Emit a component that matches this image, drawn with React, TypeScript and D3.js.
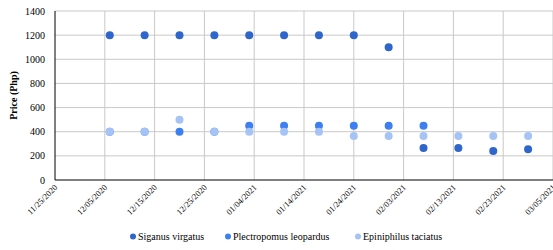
//@ts-nocheck
import React, { useEffect, useRef } from "react";
import * as d3 from "d3";

// weekly sampling dates
const dates = [
  "2020-12-06", "2020-12-13", "2020-12-20", "2020-12-27", "2021-01-03",
  "2021-01-10", "2021-01-17", "2021-01-24", "2021-01-31", "2021-02-07",
  "2021-02-14", "2021-02-21", "2021-02-28",
];
const siganus = [1200, 1200, 1200, 1200, 1200, 1200, 1200, 1200, 1100, 265, 265, 240, 255];
const plectropomus = [400, 400, 400, 400, 450, 450, 450, 450, 450, 450, null, null, null];
const epiniphilus = [400, 400, 500, 400, 400, 400, 400, 365, 365, 365, 365, 365, 365];
const tickDates = [
  "2020-11-25", "2020-12-05", "2020-12-15", "2020-12-25", "2021-01-04",
  "2021-01-14", "2021-01-24", "2021-02-03", "2021-02-13", "2021-02-23", "2021-03-05",
];
const yTicks = [0, 200, 400, 600, 800, 1000, 1200, 1400];

const series = [
  { name: "Siganus virgatus", values: siganus, color: "#2f66cc" },
  { name: "Plectropomus leopardus", values: plectropomus, color: "#3d7ff0" },
  { name: "Epiniphilus taciatus", values: epiniphilus, color: "#a6c3f6" },
];

const W = 553, H = 250;
const margin = { left: 55, top: 11, right: 0, bottom: 70 };

export default function App() {
  const ref = useRef<SVGSVGElement>(null);

  useEffect(() => {
    const svg = d3.select(ref.current);
    svg.selectAll("*").remove();
    const parse = d3.timeParse("%Y-%m-%d");
    const fmt = d3.timeFormat("%m/%d/%Y");

    const x = d3
      .scaleTime()
      .domain([parse("2020-11-25"), parse("2021-03-05")])
      .range([margin.left, W - margin.right]);
    const y = d3.scaleLinear().domain([0, 1400]).range([H - margin.bottom, margin.top]);

    const font = "'Liberation Serif', 'Times New Roman', serif";

    // grid
    svg.append("g")
      .selectAll("line")
      .data(yTicks.slice(1))
      .join("line")
      .attr("x1", margin.left).attr("x2", W)
      .attr("y1", (d) => y(d)).attr("y2", (d) => y(d))
      .attr("stroke", "#c9c9c9");
    svg.append("g")
      .selectAll("line")
      .data(tickDates.slice(1))
      .join("line")
      .attr("x1", (d) => x(parse(d))).attr("x2", (d) => x(parse(d)))
      .attr("y1", y(1400)).attr("y2", y(0))
      .attr("stroke", "#c9c9c9");

    // axes lines
    svg.append("line")
      .attr("x1", margin.left).attr("x2", margin.left)
      .attr("y1", y(1400)).attr("y2", y(0))
      .attr("stroke", "#000");
    svg.append("line")
      .attr("x1", margin.left).attr("x2", W)
      .attr("y1", y(0)).attr("y2", y(0))
      .attr("stroke", "#000").attr("stroke-width", 1.2);

    // y tick labels
    svg.append("g")
      .selectAll("text")
      .data(yTicks)
      .join("text")
      .attr("x", 45)
      .attr("y", (d) => y(d) + 3.5)
      .attr("text-anchor", "end")
      .attr("font-family", font)
      .attr("font-size", 10)
      .text((d) => d);

    svg.append("text")
      .attr("transform", `translate(17,${(y(0) + y(1400)) / 2}) rotate(-90)`)
      .attr("text-anchor", "middle")
      .attr("font-family", font)
      .attr("font-size", 10)
      .attr("font-weight", "bold")
      .text("Price (Php)");

    // x tick labels
    svg.append("g")
      .selectAll("text")
      .data(tickDates)
      .join("text")
      .attr("transform", (d) => `translate(${x(parse(d)) + 3},${y(0) + 8}) rotate(-45)`)
      .attr("text-anchor", "end")
      .attr("font-family", font)
      .attr("font-size", 8.5)
      .text((d) => fmt(parse(d)));

    // points, in series order so the light series sits on top
    series.forEach((s) => {
      svg.append("g")
        .selectAll("circle")
        .data(dates.map((d, i) => [d, s.values[i]]).filter((p) => p[1] != null))
        .join("circle")
        .attr("cx", (p) => x(parse(p[0])))
        .attr("cy", (p) => y(p[1]))
        .attr("r", 4)
        .attr("fill", s.color);
    });

    // legend
    const legendX = [133, 228, 358];
    const lg = svg.append("g")
      .selectAll("g")
      .data(series)
      .join("g")
      .attr("transform", (d, i) => `translate(${legendX[i]},240)`);
    lg.append("circle").attr("r", 3).attr("cy", -3.5).attr("fill", (d) => d.color);
    lg.append("text")
      .attr("x", 5)
      .attr("font-family", font)
      .attr("font-size", 10)
      .text((d) => d.name);
  }, []);

  return (
    <svg
      ref={ref}
      width={W}
      height={H}
      style={{ position: "absolute", left: 0, top: 0, background: "#fff" }}
    />
  );
}
